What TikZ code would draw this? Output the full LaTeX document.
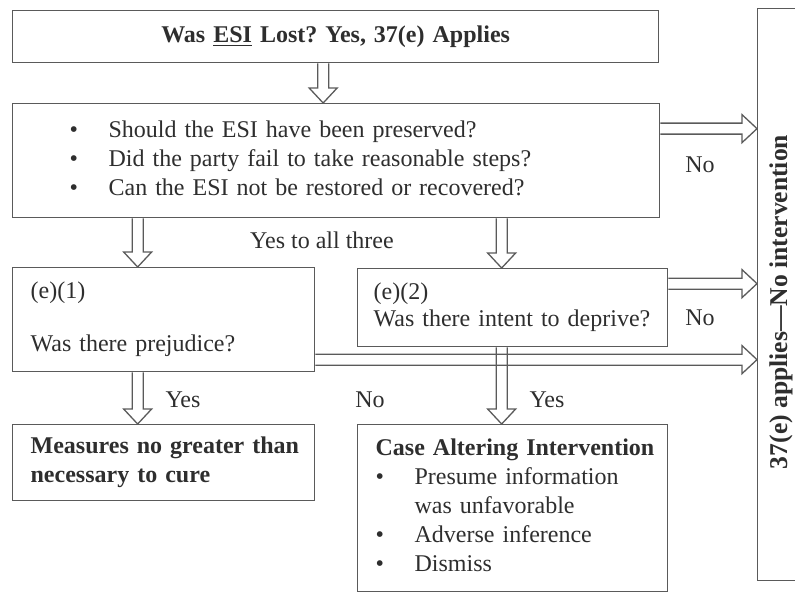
\documentclass[tikz,border=0pt]{standalone}
\usepackage{fontspec}
\setmainfont{Liberation Serif}
\usepackage{tikz}
\usetikzlibrary{calc}

\definecolor{linegray}{HTML}{5A5A5A}
\definecolor{textgray}{HTML}{2E2E2E}

\frenchspacing
\tikzset{
  box/.style={draw=linegray, line width=0.65pt, rectangle, anchor=north west, align=left,
    text=textgray, font=\fontsize{12}{14.5}\selectfont, inner ysep=0pt},
  lbl/.style={text=textgray, font=\fontsize{12}{14.5}\selectfont, inner sep=0pt},
  fat/.style={draw=linegray, line width=0.65pt, line join=miter, to path={
    let \p1=(\tikztostart), \p2=(\tikztotarget), \p3=($(\p2)!7.5pt!(\p1)$) in
    ($(\p1)!2.75pt!90:(\p2)$) -- ($(\p3)!2.75pt!90:(\p2)$) -- ($(\p3)!7pt!90:(\p2)$) -- (\p2)
    -- ($(\p3)!7pt!-90:(\p2)$) -- ($(\p3)!2.75pt!-90:(\p2)$) -- ($(\p1)!2.75pt!-90:(\p2)$)}}
}

\begin{document}
\begin{tikzpicture}[x=0.5pt, y=-0.5pt]
\useasboundingbox (0,0) rectangle (795,609);

\node(top)[box, align=center, inner xsep=0pt, text width=323pt, minimum height=26pt] at (12,10)
  {\textbf{Was \underline{ESI} Lost? Yes, 37(e) Applies}};
\node(qs)[box, inner xsep=28.5pt, text width=266.5pt, minimum height=57pt] at (12,103)
  {\makebox[19.5pt][l]{\textbullet}Should the ESI have been preserved?\\
   \makebox[19.5pt][l]{\textbullet}Did the party fail to take reasonable steps?\\
   \makebox[19.5pt][l]{\textbullet}Can the ESI not be restored or recovered?\\[-12pt]\mbox{}};

\node(e1)[box, inner xsep=9pt, text width=133pt, minimum height=52pt] at (12,267)
  {(e)(1)\\[12pt]Was there prejudice?};
\node(e2)[box, inner xsep=8pt, text width=139pt, minimum height=39pt] at (357,268)
  {(e)(2)\\[-1pt]Was there intent to deprive?};

\node(meas)[box, inner xsep=9pt, text width=133pt, minimum height=38pt] at (12,424)
  {\mbox{\textbf{Measures no greater than}}\\\mbox{\textbf{necessary to cure}}};
\node(case)[box, inner xsep=9pt, text width=137pt, minimum height=83.5pt] at (357,424)
  {\mbox{\textbf{Case Altering Intervention}}\\
   \makebox[19.5pt][l]{\textbullet}Presume information\\
   \hspace*{19.5pt}was unfavorable\\
   \makebox[19.5pt][l]{\textbullet}Adverse inference\\
   \makebox[19.5pt][l]{\textbullet}Dismiss\\[-12pt]\mbox{}};

\node(apply)[box, inner sep=0pt, minimum width=35pt, minimum height=286pt] at (757,8) {};
\node(applytext)[lbl, rotate=90, font=\fontsize{12.8}{15}\selectfont\bfseries] at (781,302)
  {37(e) applies—No intervention};

% labels
\node(yall)[lbl] at (322,240) {Yes to all three};
\node(no1)[lbl] at (700,165) {No};
\node(no2)[lbl] at (700,318) {No};
\node(no3)[lbl] at (370,400) {No};
\node(yes1)[lbl] at (183,400) {Yes};
\node(yes2)[lbl] at (547,400) {Yes};

% hollow arrows
\coordinate(k0) at ([xshift=-6.5pt]qs.north);
\coordinate(k1) at ([xshift=-13pt]e1.north);
\coordinate(k2) at ([xshift=-5.5pt]e2.north);
\coordinate(r1) at ([yshift=16pt]qs.east);
\coordinate(r2) at ([yshift=12pt]e2.east);
\coordinate(r3) at ([yshift=-20pt]e1.east);

\draw[fat] (top.south -| k0) to (k0);
\draw[fat] (qs.south -| k1) to (k1);
\draw[fat] (qs.south -| k2) to (k2);
\draw[fat] (e1.south -| k1) to (meas.north -| k1);
\draw[fat] (e2.south -| k2) to (case.north -| k2);
\draw[fat] (r1) to (r1 -| apply.west);
\draw[fat] (r2) to (r2 -| apply.west);
\draw[fat] (r3) to (r3 -| apply.west);
\end{tikzpicture}
\end{document}
